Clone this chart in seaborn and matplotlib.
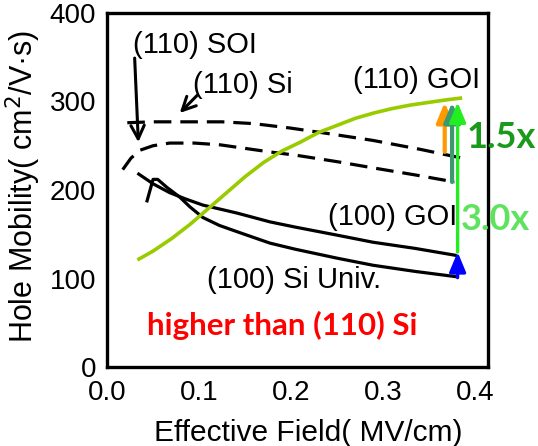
import numpy as np
import pandas as pd
import matplotlib
matplotlib.use("Agg")
import matplotlib.pyplot as plt
import seaborn as sns

# ---- data: hole mobility (cm^2/V·s) vs effective field (MV/cm) ----
si110_x = [0.022, 0.05, 0.087, 0.125, 0.159, 0.199, 0.245, 0.289, 0.34, 0.386]
si110_y = [276, 277, 277, 277, 275, 270, 263, 256, 246, 236]

soi110_x = [0.017, 0.026, 0.036, 0.05, 0.068, 0.095, 0.123, 0.150, 0.177,
            0.207, 0.25, 0.289, 0.335, 0.378]
soi110_y = [223, 236, 245, 250, 253, 253, 251, 247, 243, 239, 232, 225,
            217, 209]

goi110_x = [0.033, 0.05, 0.07, 0.09, 0.11, 0.13, 0.15, 0.17, 0.19, 0.21,
            0.23, 0.25, 0.27, 0.29, 0.31, 0.33, 0.35, 0.37, 0.386]
goi110_y = [121, 131, 145, 161, 179, 197, 215, 231, 244, 254, 265, 273,
            281, 287, 292, 296, 299, 302, 304]

goi100_x = [0.033, 0.05, 0.068, 0.085, 0.104, 0.141, 0.177, 0.205, 0.25,
            0.289, 0.335, 0.380]
goi100_y = [219, 207, 197, 190, 183, 174, 164, 158, 149, 141, 134, 126]

si100_x = [0.043, 0.050, 0.055, 0.065, 0.079, 0.090, 0.104, 0.122, 0.141,
           0.177, 0.205, 0.25, 0.289, 0.335, 0.380]
si100_y = [186, 212, 212, 203, 192, 181, 169, 160, 153, 140, 133, 123,
           115, 108, 102]

x_ticks = [0.0, 0.1, 0.2, 0.3, 0.4]
y_ticks = [0, 100, 200, 300, 400]

# ---- style ----
sns.set_theme(style="white")
plt.rcParams["font.family"] = ["Liberation Sans", "DejaVu Sans"]
plt.rcParams.update({"text.color": "black", "axes.labelcolor": "black",
                     "xtick.color": "black", "ytick.color": "black"})

fig = plt.figure(figsize=(5.38, 4.46), dpi=100)
ax = fig.add_axes([0.199, 0.177, 0.708, 0.794])

lw = 2.3
dash = (5.5, 2.8)


def curve(x, y, dashed=False, **kw):
    df = pd.DataFrame({"field": x, "mobility": y})
    sns.lineplot(data=df, x="field", y="mobility", ax=ax, sort=False,
                 estimator=None, legend=False, **kw)
    line = ax.lines[-1]
    line.set_solid_joinstyle("round")
    line.set_solid_capstyle("butt")
    if dashed:
        line.set_dashes(dash)


curve(si110_x, si110_y, dashed=True, color="black", lw=lw)
curve(soi110_x, soi110_y, dashed=True, color="black", lw=lw)
curve(goi100_x, goi100_y, color="black", lw=lw)
curve(si100_x, si100_y, color="black", lw=lw)
curve(goi110_x, goi110_y, color="#99cc00", lw=lw + 0.3)

ax.set_xlim(0, 0.414)
ax.set_ylim(0, 400)
ax.set_xticks(x_ticks)
ax.set_xticklabels([f"{v:.1f}" for v in x_ticks])
ax.set_yticks(y_ticks)
ax.set_xticks(np.arange(0, 0.41, 0.02), minor=True)
ax.set_yticks(np.arange(0, 401, 20), minor=True)
ax.tick_params(axis="both", which="both", direction="in", color="black",
               width=2.2, labelsize=20, labelcolor="black")
ax.tick_params(axis="x", which="both", length=7, pad=9)
ax.tick_params(axis="y", which="major", length=9, pad=8)
ax.tick_params(axis="y", which="minor", length=6)
ax.tick_params(top=False, right=False)
for sp in ax.spines.values():
    sp.set_linewidth(2.4)
    sp.set_color("black")

ax.set_xlabel("Effective Field( MV/cm)", fontsize=21.5)
ax.set_ylabel("Hole Mobility( cm$^2$/V·s)", fontsize=22)
ax.xaxis.set_label_coords(0.527, -0.148)
ax.yaxis.set_label_coords(-0.168, 0.51)

# ---- labels ----
fs = 21
ax.text(0.028, 364, "(110) SOI", fontsize=fs, va="center", ha="left")
ax.text(0.093, 319, "(110) Si", fontsize=fs, va="center", ha="left")
ax.text(0.267, 324, "(110) GOI", fontsize=fs, va="center", ha="left")
ax.text(0.240, 169, "(100) GOI", fontsize=fs, va="center", ha="left")
ax.text(0.109, 98, "(100) Si Univ.", fontsize=fs, va="center", ha="left")
ax.text(0.043, 47, "higher than (110) Si", fontsize=22.5, color="#ff0000",
        fontweight="bold", family=["Lato", "DejaVu Sans"], va="center",
        ha="left")

# pointer arrows to the dashed curves
ptr = dict(arrowstyle="->,head_width=0.4,head_length=0.8", lw=2.2,
           color="black", shrinkA=0, shrinkB=0, mutation_scale=12)
ax.annotate("", xy=(0.034, 254), xytext=(0.030, 349), arrowprops=ptr)
ax.annotate("", xy=(0.079, 287), xytext=(0.098, 307), arrowprops=ptr)


# enhancement arrows
def up_arrow(x, y0, y1, color, lw_a=3.0):
    ax.annotate("", xy=(x, y1), xytext=(x, y0),
                arrowprops=dict(arrowstyle="-|>,head_width=0.5,head_length=1.2",
                                mutation_scale=10, lw=lw_a, color=color,
                                shrinkA=0, shrinkB=0),
                zorder=5)


up_arrow(0.367, 243, 299, "#ff9900")
up_arrow(0.375, 209, 299, "#3a9a6e")
up_arrow(0.381, 130, 299, "#22ee22", lw_a=2.4)
up_arrow(0.381, 101, 130, "#0000ff", lw_a=2.4)

ax.text(0.391, 259, "1.5x", fontsize=26, color="#1a9a1a", fontweight="bold",
        family=["Lato", "DejaVu Sans"], va="center", ha="left", clip_on=False,
        zorder=6)
ax.text(0.385, 167, "3.0x", fontsize=26, color="#5fe35f", fontweight="bold",
        family=["Lato", "DejaVu Sans"], va="center", ha="left", clip_on=False,
        zorder=6)

fig.savefig("out.png", dpi=100)
